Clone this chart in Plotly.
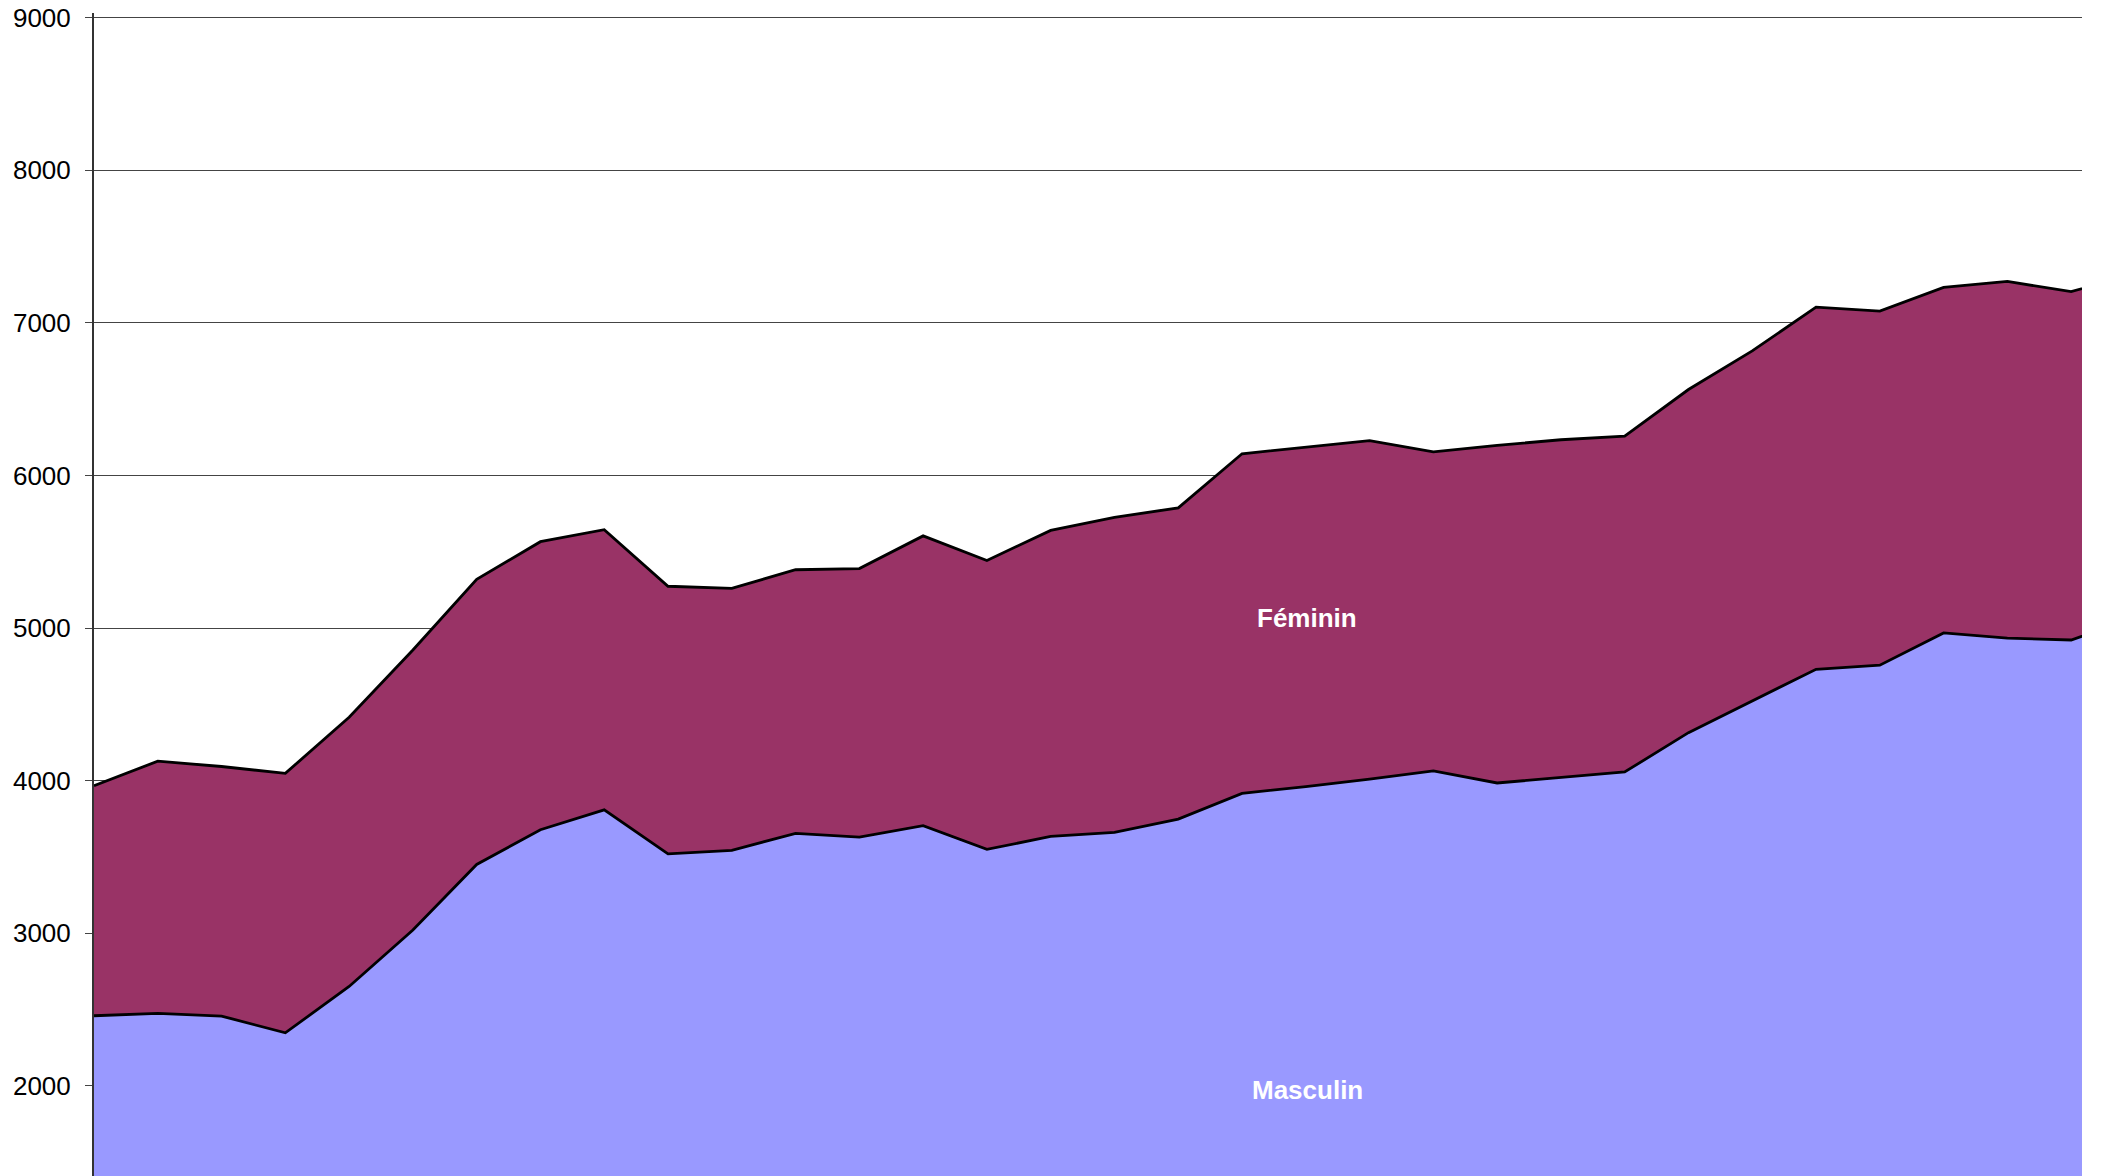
import plotly.graph_objects as go

# period index (x-axis labels are not visible in the reference)
periodes = list(range(33))

masculin = [2460, 2475, 2458, 2348, 2652, 3022, 3451, 3679, 3809, 3521,
            3544, 3655, 3630, 3705, 3550, 3635, 3662, 3748, 3917, 3961,
            4011, 4064, 3985, 4020, 4057, 4315, 4524, 4730, 4757, 4968,
            4934, 4922, 5070]

feminin = [1507, 1653, 1635, 1700, 1764, 1834, 1869, 1887, 1836, 1753,
           1716, 1727, 1760, 1899, 1893, 2005, 2063, 2040, 2225, 2224,
           2217, 2090, 2212, 2214, 2200, 2248, 2292, 2373, 2320, 2264,
           2337, 2282, 2252]

y_ticks = [2000, 3000, 4000, 5000, 6000, 7000, 8000, 9000]

fig = go.Figure()
fig.add_trace(go.Scatter(
    x=periodes, y=masculin, name="Masculin", mode="lines",
    stackgroup="one", fillcolor="#9999FF",
    line=dict(color="#000000", width=2.8)))
fig.add_trace(go.Scatter(
    x=periodes, y=feminin, name="Féminin", mode="lines",
    stackgroup="one", fillcolor="#993366",
    line=dict(color="#000000", width=2.8)))

fig.add_annotation(x=19.02, y=5065, text="<b>Féminin</b>", showarrow=False,
                   font=dict(family="Liberation Sans, Arial", size=26, color="white"))
fig.add_annotation(x=19.02, y=1973, text="<b>Masculin</b>", showarrow=False,
                   font=dict(family="Liberation Sans, Arial", size=26, color="white"))

fig.update_layout(
    width=2102, height=1176,
    margin=dict(l=94, r=20, t=13, b=0),
    paper_bgcolor="white", plot_bgcolor="white",
    showlegend=False,
    font=dict(family="Liberation Sans, Arial", size=26, color="black"),
    xaxis=dict(range=[0, 31.17], visible=False, showgrid=False, zeroline=False,
               automargin=False),
    yaxis=dict(range=[1410, 9030], tickvals=y_ticks, ticktext=[str(v) for v in y_ticks],
               showgrid=True, gridcolor="#444444", gridwidth=1.2,
               showline=True, linecolor="#333333", linewidth=2,
               ticks="outside", ticklen=7, tickcolor="#444444", tickwidth=1,
               ticklabelstandoff=9, ticklabeloverflow="allow", zeroline=False,
               automargin=False,
               tickfont=dict(family="Liberation Sans, Arial", size=26, color="black")),
)

fig.write_html("out.html",
               config={"displayModeBar": False},
               post_script="document.body.style.margin='0px';document.body.style.overflow='hidden';")
